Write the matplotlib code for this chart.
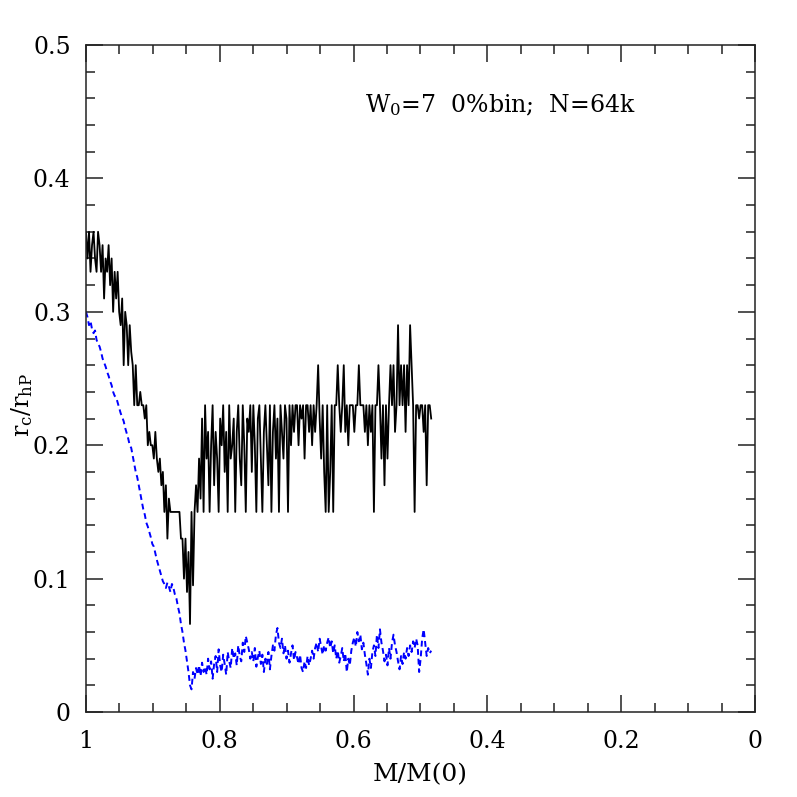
import numpy as np
import matplotlib
matplotlib.use("Agg")
import matplotlib.pyplot as plt
from matplotlib.ticker import MultipleLocator

plt.rcParams['font.family'] = ['DejaVu Serif']
plt.rcParams['mathtext.fontset'] = 'dejavuserif'

# ---- data ----
x_start, x_end = 1.0, 0.484

black_rc = [
    0.36, 0.34, 0.36, 0.33, 0.35, 0.36, 0.34, 0.33, 0.36, 0.35,
    0.33, 0.35, 0.31, 0.34, 0.33, 0.35, 0.32, 0.34, 0.30, 0.33,
    0.31, 0.33, 0.30, 0.29, 0.31, 0.26, 0.30, 0.29, 0.26, 0.29,
    0.27, 0.26, 0.23, 0.26, 0.23, 0.23, 0.24, 0.23, 0.23, 0.22,
    0.23, 0.20, 0.21, 0.20, 0.20, 0.19, 0.21, 0.19, 0.18, 0.19,
    0.17, 0.18, 0.15, 0.17, 0.13, 0.16, 0.15, 0.15, 0.15, 0.15,
    0.15, 0.15, 0.15, 0.13, 0.13, 0.10, 0.13, 0.09, 0.12, 0.066,
    0.15, 0.095, 0.15, 0.17, 0.15, 0.19, 0.16, 0.22, 0.15, 0.23,
    0.19, 0.21, 0.15, 0.20, 0.23, 0.17, 0.21, 0.19, 0.15, 0.22,
    0.20, 0.23, 0.18, 0.21, 0.15, 0.23, 0.19, 0.20, 0.22, 0.15,
    0.21, 0.23, 0.19, 0.17, 0.23, 0.20, 0.15, 0.22, 0.21, 0.23,
    0.18, 0.23, 0.20, 0.15, 0.22, 0.23, 0.19, 0.15, 0.21, 0.23,
    0.20, 0.17, 0.23, 0.15, 0.21, 0.23, 0.19, 0.22, 0.15, 0.23,
    0.21, 0.19, 0.23, 0.22, 0.15, 0.23, 0.20, 0.23, 0.21, 0.23,
    0.23, 0.20, 0.23, 0.22, 0.23, 0.19, 0.23, 0.23, 0.21, 0.23,
    0.20, 0.23, 0.21, 0.23, 0.26, 0.22, 0.19, 0.23, 0.18, 0.15,
    0.23, 0.15, 0.18, 0.23, 0.15, 0.23, 0.23, 0.26, 0.23, 0.21,
    0.23, 0.26, 0.21, 0.23, 0.20, 0.23, 0.23, 0.23, 0.21, 0.23,
    0.23, 0.26, 0.23, 0.23, 0.23, 0.21, 0.23, 0.20, 0.23, 0.21,
    0.23, 0.15, 0.23, 0.23, 0.26, 0.23, 0.19, 0.23, 0.17, 0.23,
    0.19, 0.23, 0.26, 0.23, 0.26, 0.21, 0.23, 0.29, 0.23, 0.26,
    0.23, 0.26, 0.21, 0.26, 0.23, 0.29, 0.26, 0.23, 0.15, 0.23,
    0.23, 0.22, 0.23, 0.23, 0.21, 0.23, 0.17, 0.23, 0.23, 0.22,
]

blue_rc = [
    0.300, 0.296, 0.290, 0.293, 0.287, 0.284, 0.286, 0.279, 0.276, 0.274,
    0.270, 0.265, 0.262, 0.259, 0.255, 0.252, 0.248, 0.245, 0.240, 0.237,
    0.236, 0.232, 0.228, 0.224, 0.221, 0.218, 0.213, 0.209, 0.205, 0.200,
    0.198, 0.192, 0.186, 0.180, 0.176, 0.170, 0.164, 0.158, 0.152, 0.148,
    0.142, 0.139, 0.135, 0.131, 0.126, 0.124, 0.119, 0.114, 0.110, 0.106,
    0.102, 0.098, 0.096, 0.093, 0.097, 0.094, 0.090, 0.096, 0.093, 0.088,
    0.085, 0.079, 0.074, 0.066, 0.060, 0.052, 0.046, 0.038, 0.030, 0.020,
    0.017, 0.030, 0.025, 0.033, 0.028, 0.035, 0.027, 0.037, 0.030, 0.034,
    0.028, 0.040, 0.032, 0.038, 0.025, 0.036, 0.042, 0.030, 0.047, 0.035,
    0.030, 0.043, 0.036, 0.028, 0.045, 0.038, 0.033, 0.048, 0.040, 0.044,
    0.035, 0.050, 0.042, 0.038, 0.052, 0.045, 0.057, 0.052, 0.047, 0.040,
    0.045, 0.038, 0.048, 0.034, 0.041, 0.046, 0.036, 0.043, 0.030, 0.040,
    0.036, 0.045, 0.032, 0.042, 0.050, 0.046, 0.058, 0.063, 0.052, 0.048,
    0.055, 0.044, 0.050, 0.040, 0.046, 0.037, 0.044, 0.050, 0.039, 0.045,
    0.041, 0.036, 0.043, 0.033, 0.030, 0.038, 0.033, 0.042, 0.035, 0.040,
    0.046, 0.040, 0.048, 0.052, 0.045, 0.055, 0.049, 0.043, 0.050, 0.046,
    0.052, 0.056, 0.048, 0.053, 0.044, 0.050, 0.040, 0.046, 0.037, 0.042,
    0.048, 0.038, 0.044, 0.030, 0.040, 0.035, 0.046, 0.052, 0.056, 0.049,
    0.060, 0.053, 0.058, 0.047, 0.052, 0.043, 0.036, 0.028, 0.040, 0.033,
    0.045, 0.050, 0.042, 0.058, 0.048, 0.062, 0.052, 0.046, 0.038, 0.043,
    0.035, 0.048, 0.040, 0.052, 0.058, 0.050, 0.045, 0.038, 0.032, 0.042,
    0.036, 0.045, 0.040, 0.048, 0.042, 0.050, 0.045, 0.053, 0.048, 0.055,
    0.050, 0.030, 0.040, 0.055, 0.062, 0.052, 0.042, 0.048, 0.044, 0.046,
]

x_black = np.linspace(x_start, x_end, len(black_rc))
x_blue = np.linspace(x_start, x_end, len(blue_rc))

title_text = r'$\mathrm{W_0}$=7  0%bin;  N=64k'
xlabel_text = 'M/M(0)'
ylabel_text = r'$\mathrm{r_c/r_{hP}}$'

# ---- figure ----
fig = plt.figure(figsize=(7.97, 7.97), dpi=100)
ax = fig.add_axes([0.1079, 0.1066, 0.8394, 0.8369])

ax.plot(x_black, black_rc, color='black', lw=1.3)
ax.plot(x_blue, blue_rc, color='#0000ff', lw=1.4, dashes=(3.0, 2.0))

ax.set_xlim(1, 0)
ax.set_ylim(0, 0.5)

ax.xaxis.set_major_locator(MultipleLocator(0.2))
ax.xaxis.set_minor_locator(MultipleLocator(0.05))
ax.yaxis.set_major_locator(MultipleLocator(0.1))
ax.yaxis.set_minor_locator(MultipleLocator(0.02))

def fmt(v, pos):
    s = ('%.1f' % v)
    if s in ('0.0', '-0.0'):
        return '0'
    if s == '1.0':
        return '1'
    return s

ax.xaxis.set_major_formatter(plt.FuncFormatter(fmt))
ax.yaxis.set_major_formatter(plt.FuncFormatter(fmt))

ax.tick_params(which='both', direction='in', top=True, right=True,
               width=1.1, color='#222222')
ax.tick_params(which='major', length=12.5, labelsize=17)
ax.tick_params(axis='x', which='major', pad=13)
ax.tick_params(axis='y', which='major', pad=11)
ax.tick_params(which='minor', length=6.5)
for sp in ax.spines.values():
    sp.set_linewidth(1.1)
    sp.set_color('#222222')

ax.set_xlabel(xlabel_text, fontsize=18, labelpad=7)
fig.text(22 / 797, 1 - 405 / 797, ylabel_text, fontsize=17, rotation=90,
         ha='center', va='center')

ax.text(0.583, 0.455, title_text, fontsize=17, ha='left', va='center',
        transform=ax.transData)

fig.savefig('out.png', dpi=100)
